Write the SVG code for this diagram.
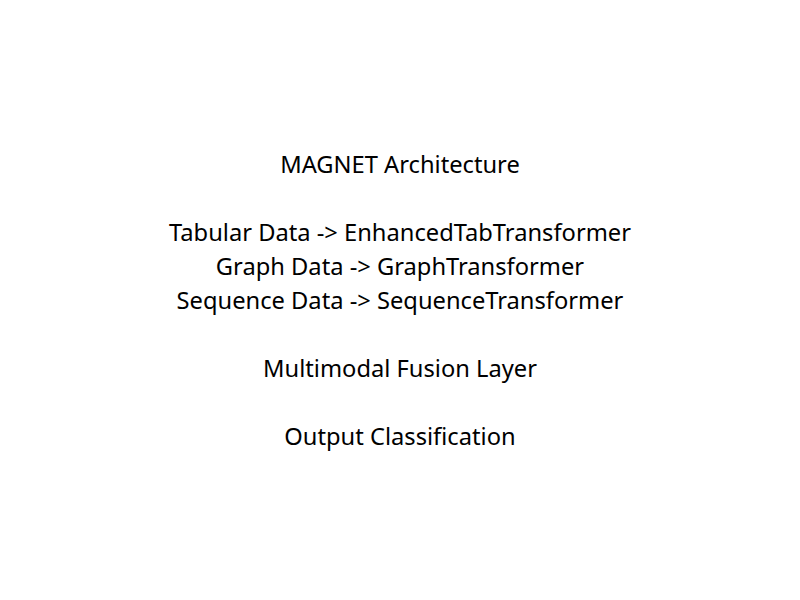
<svg xmlns="http://www.w3.org/2000/svg" width="800" height="600" viewBox="0 0 800 600">
<style>
.t { font-family: "Noto Sans", "Open Sans", sans-serif; font-size: 23.7px; fill: #000000; text-anchor: middle; }
</style>
<rect x="0" y="0" width="800" height="600" fill="#ffffff"/>
<g id="content">
<text class="t" x="400" y="173">MAGNET Architecture</text>
<text class="t" x="400" y="241">Tabular Data -&gt; EnhancedTabTransformer</text>
<text class="t" x="400" y="275">Graph Data -&gt; GraphTransformer</text>
<text class="t" x="400" y="309">Sequence Data -&gt; SequenceTransformer</text>
<text class="t" x="400" y="377">Multimodal Fusion Layer</text>
<text class="t" x="400" y="445">Output Classification</text>
</g>
</svg>
